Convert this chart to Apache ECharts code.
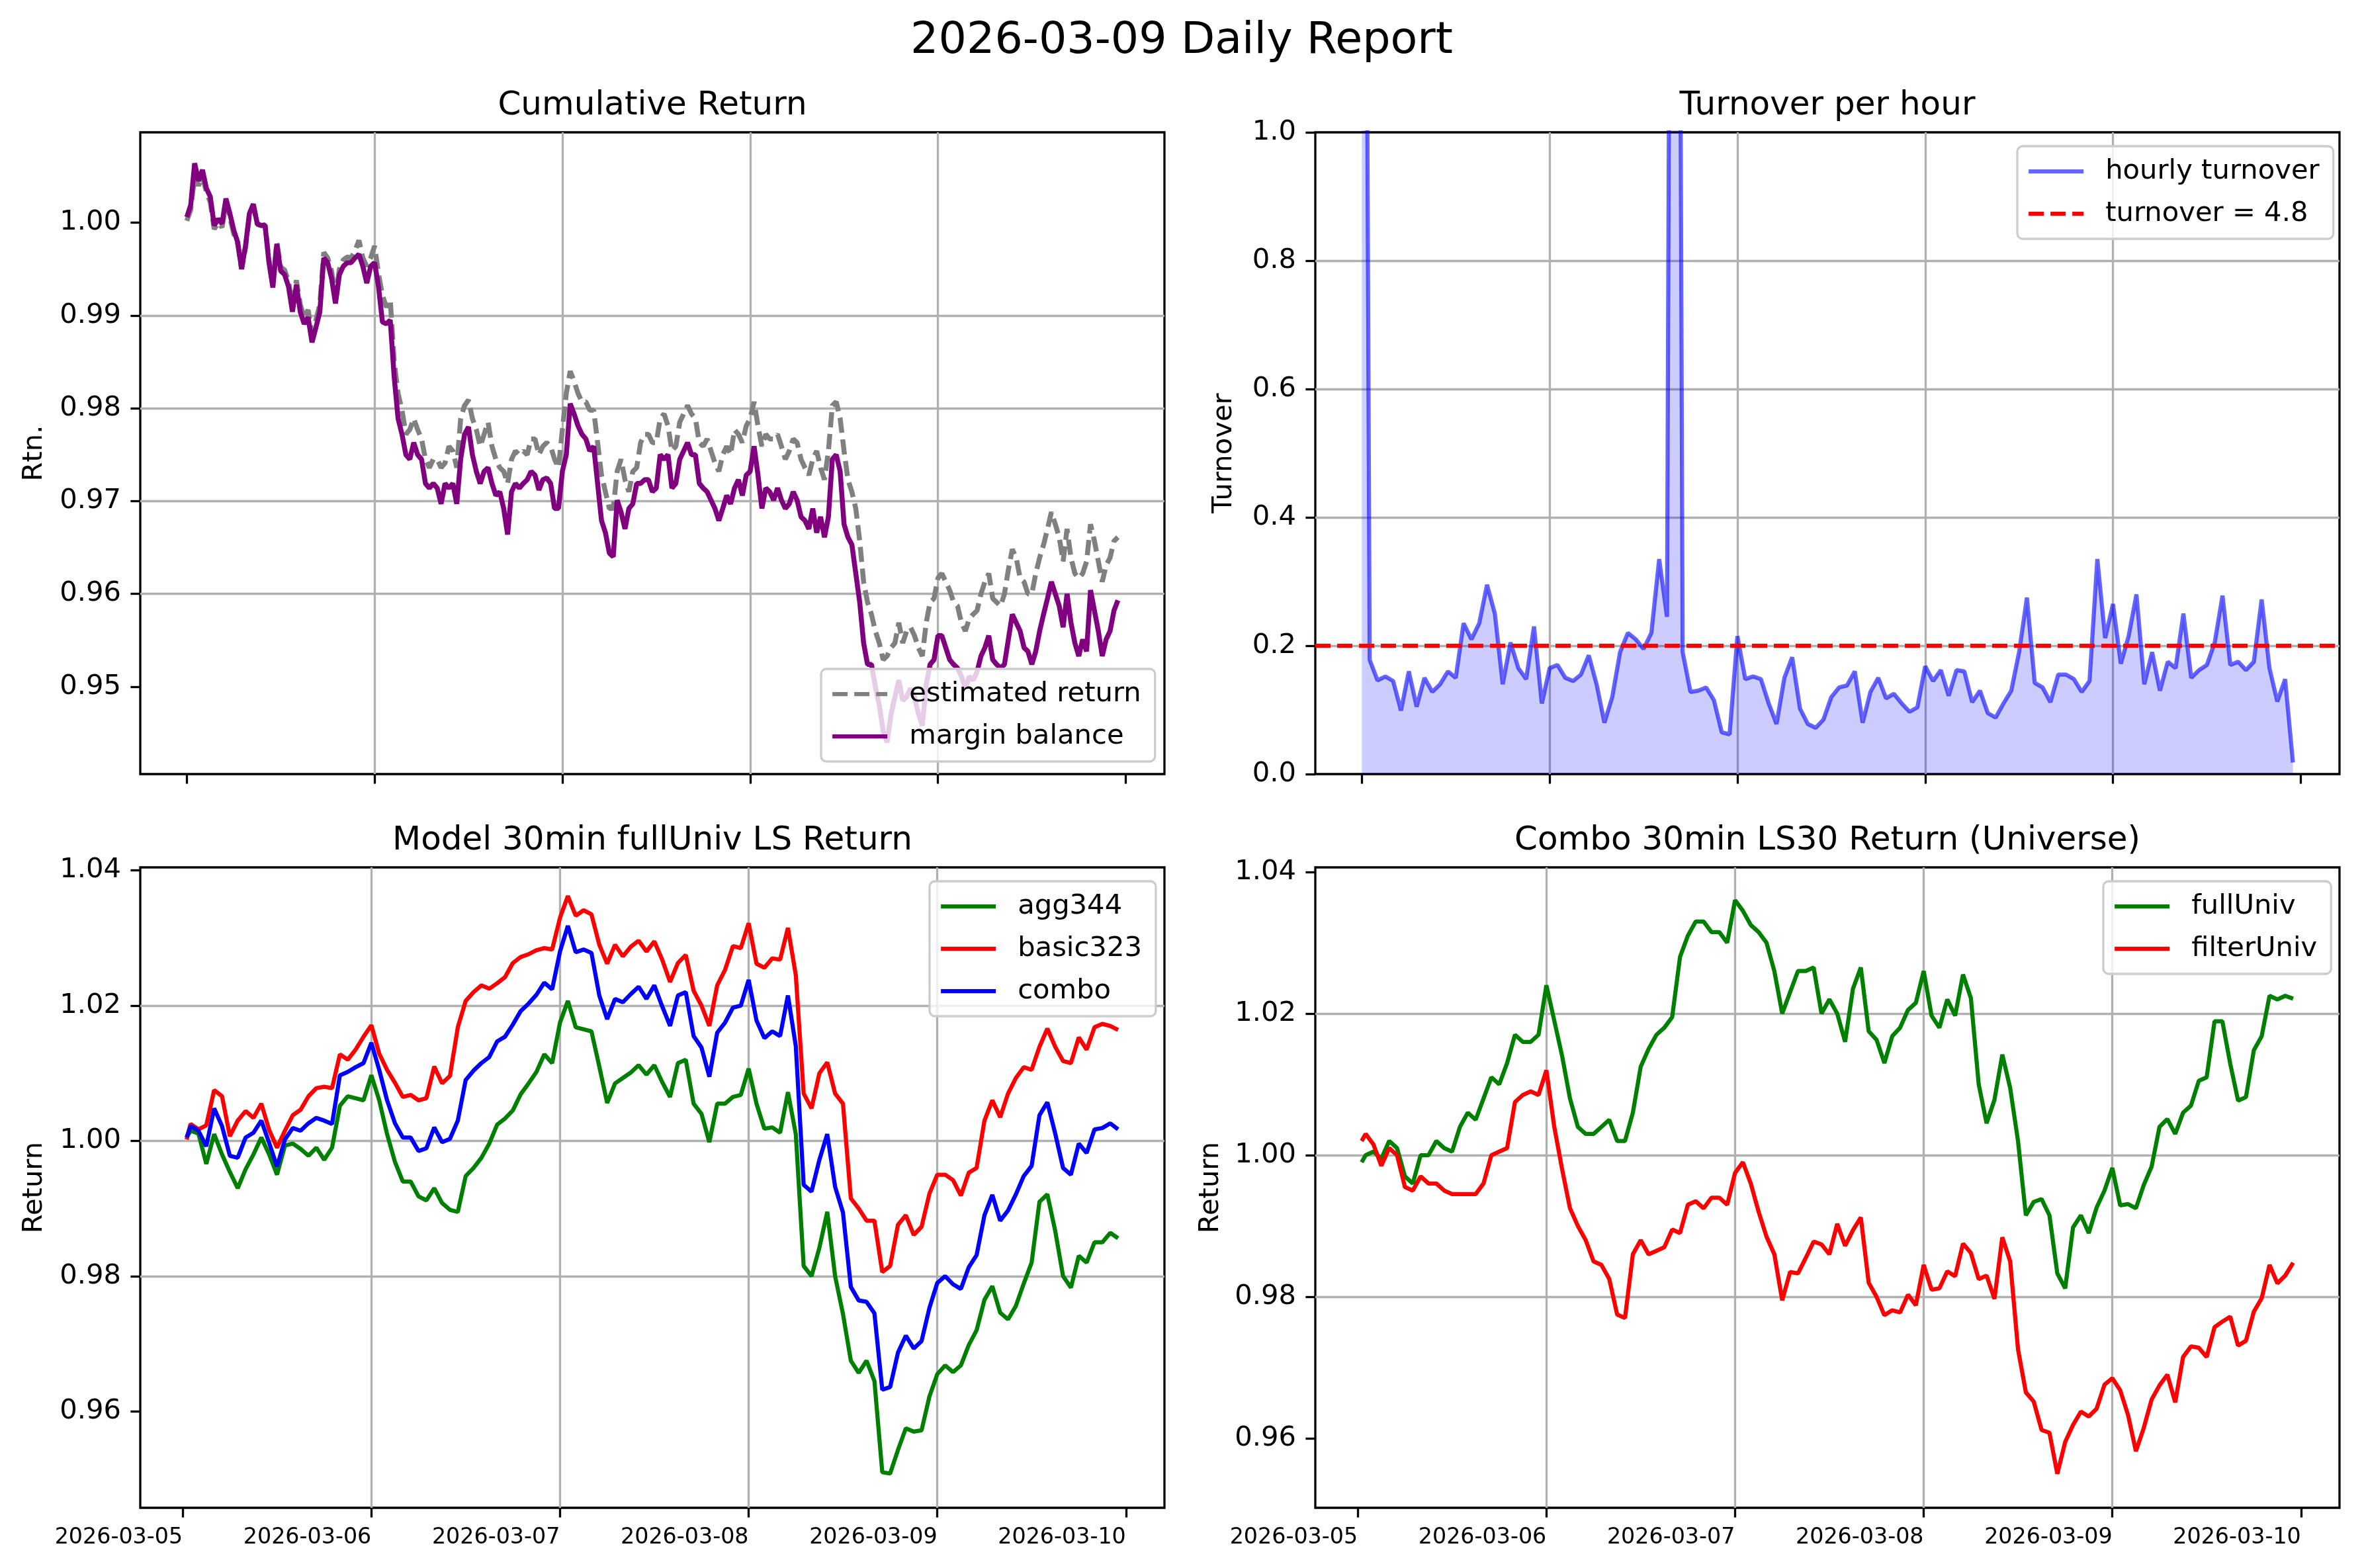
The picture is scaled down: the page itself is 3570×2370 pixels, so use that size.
<!DOCTYPE html>
<html>
<head>
<meta charset="utf-8">
<script src="https://cdn.jsdelivr.net/npm/echarts@6/dist/echarts.min.js"></script>
<style>
html,body{margin:0;padding:0;background:#ffffff;overflow:hidden;}
#chart{width:3570px;height:2370px;}
</style>
</head>
<body>
<div id="chart"></div>
<script>
// ---------- tick labels ----------
const xTickLabels = ['2026-03-05','2026-03-06','2026-03-07','2026-03-08','2026-03-09','2026-03-10'];
const xTickHours = [0, 24, 48, 72, 96, 120];
const cumTicks = [0.95, 0.96, 0.97, 0.98, 0.99, 1.00];
const turnoverTicks = [0.0, 0.2, 0.4, 0.6, 0.8, 1.0];
const returnTicks = [0.96, 0.98, 1.00, 1.02, 1.04];

// ---------- Cumulative Return (30-min samples from 2026-03-05 00:00) ----------
const estimatedReturn = [
1.0002,1.0014,1.0050,1.0040,1.0050,1.0033,1.0022,0.9993,1.0000,0.9995,
1.0020,1.0006,0.9988,0.9977,0.9950,0.9973,1.0008,1.0018,0.9998,0.9997,
0.9998,0.9960,0.9936,0.9979,0.9952,0.9949,0.9937,0.9911,0.9938,0.9912,
0.9898,0.9906,0.9880,0.9895,0.9912,0.9968,0.9962,0.9948,0.9920,0.9950,
0.9960,0.9963,0.9962,0.9970,0.9981,0.9962,0.9953,0.9962,0.9975,0.9945,
0.9922,0.9909,0.9917,0.9851,0.9816,0.9798,0.9772,0.9777,0.9789,0.9777,
0.9767,0.9745,0.9736,0.9745,0.9745,0.9736,0.9741,0.9759,0.9754,0.9736,
0.9789,0.9803,0.9809,0.9789,0.9777,0.9759,0.9772,0.9785,0.9759,0.9745,
0.9736,0.9732,0.9719,0.9745,0.9754,0.9750,0.9754,0.9750,0.9767,0.9767,
0.9750,0.9759,0.9763,0.9759,0.9745,0.9736,0.9777,0.9816,0.9840,0.9829,
0.9816,0.9807,0.9807,0.9798,0.9798,0.9763,0.9728,0.9710,0.9692,0.9692,
0.9732,0.9745,0.9723,0.9710,0.9732,0.9736,0.9763,0.9772,0.9772,0.9763,
0.9763,0.9789,0.9794,0.9781,0.9754,0.9759,0.9785,0.9794,0.9803,0.9794,
0.9789,0.9763,0.9759,0.9767,0.9754,0.9741,0.9732,0.9750,0.9759,0.9750,
0.9777,0.9772,0.9763,0.9781,0.9789,0.9807,0.9781,0.9759,0.9772,0.9767,
0.9767,0.9772,0.9759,0.9745,0.9754,0.9767,0.9763,0.9745,0.9736,0.9728,
0.9745,0.9754,0.9736,0.9723,0.9754,0.9803,0.9807,0.9789,0.9754,0.9723,
0.9710,0.9692,0.9657,0.9613,0.9591,0.9578,0.9560,0.9547,0.9529,0.9533,
0.9542,0.9547,0.9569,0.9547,0.9560,0.9564,0.9555,0.9542,0.9533,0.9569,
0.9591,0.9595,0.9617,0.9622,0.9613,0.9604,0.9591,0.9587,0.9569,0.9560,
0.9573,0.9578,0.9582,0.9600,0.9613,0.9622,0.9595,0.9591,0.9587,0.9600,
0.9626,0.9648,0.9639,0.9617,0.9613,0.9600,0.9600,0.9622,0.9639,0.9653,
0.9670,0.9688,0.9675,0.9661,0.9635,0.9670,0.9639,0.9622,0.9617,0.9622,
0.9635,0.9675,0.9657,0.9635,0.9613,0.9631,0.9639,0.9657,0.9661
];
const marginBalance = [
1.0006,1.0019,1.0064,1.0045,1.0057,1.0037,1.0028,0.9997,1.0004,0.9999,
1.0026,1.0010,0.9992,0.9979,0.9950,0.9975,1.0010,1.0020,0.9999,0.9997,
0.9997,0.9957,0.9930,0.9977,0.9948,0.9944,0.9931,0.9904,0.9933,0.9904,
0.9891,0.9898,0.9871,0.9887,0.9904,0.9962,0.9957,0.9940,0.9913,0.9944,
0.9953,0.9957,0.9957,0.9962,0.9966,0.9953,0.9935,0.9953,0.9957,0.9931,
0.9893,0.9891,0.9895,0.9834,0.9789,0.9772,0.9750,0.9745,0.9763,0.9750,
0.9745,0.9719,0.9714,0.9719,0.9714,0.9697,0.9719,0.9714,0.9719,0.9697,
0.9745,0.9772,0.9780,0.9750,0.9732,0.9719,0.9732,0.9736,0.9719,0.9706,
0.9710,0.9692,0.9664,0.9710,0.9719,0.9714,0.9719,0.9723,0.9732,0.9728,
0.9712,0.9723,0.9725,0.9719,0.9692,0.9692,0.9732,0.9750,0.9805,0.9794,
0.9781,0.9772,0.9767,0.9754,0.9759,0.9719,0.9679,0.9666,0.9644,0.9640,
0.9701,0.9688,0.9670,0.9692,0.9697,0.9719,0.9719,0.9723,0.9723,0.9710,
0.9714,0.9750,0.9745,0.9750,0.9714,0.9719,0.9745,0.9754,0.9763,0.9750,
0.9750,0.9719,0.9714,0.9710,0.9701,0.9692,0.9679,0.9692,0.9706,0.9697,
0.9714,0.9723,0.9706,0.9728,0.9732,0.9759,0.9728,0.9692,0.9714,0.9710,
0.9701,0.9714,0.9701,0.9692,0.9697,0.9710,0.9701,0.9683,0.9679,0.9670,
0.9692,0.9666,0.9683,0.9661,0.9683,0.9745,0.9750,0.9732,0.9675,0.9661,
0.9653,0.9622,0.9591,0.9547,0.9524,0.9524,0.9500,0.9480,0.9452,0.9440,
0.9470,0.9489,0.9507,0.9485,0.9489,0.9498,0.9489,0.9471,0.9458,0.9502,
0.9524,0.9529,0.9555,0.9555,0.9542,0.9529,0.9524,0.9520,0.9511,0.9498,
0.9511,0.9507,0.9516,0.9533,0.9542,0.9555,0.9529,0.9524,0.9520,0.9524,
0.9551,0.9578,0.9569,0.9560,0.9542,0.9538,0.9524,0.9538,0.9560,0.9578,
0.9595,0.9613,0.9600,0.9587,0.9564,0.9600,0.9569,0.9547,0.9533,0.9551,
0.9538,0.9604,0.9582,0.9560,0.9533,0.9551,0.9560,0.9582,0.9593
];

// ---------- Turnover per hour (hourly from 2026-03-05 00:00) ----------
const hourlyTurnover = [
3.0,0.178,0.146,0.152,0.145,0.099,0.160,0.105,0.150,0.128,
0.140,0.160,0.150,0.235,0.210,0.235,0.295,0.250,0.140,0.205,
0.165,0.148,0.230,0.110,0.165,0.170,0.150,0.145,0.155,0.185,
0.140,0.080,0.120,0.190,0.220,0.210,0.195,0.220,0.335,0.245,
3.5,0.190,0.128,0.130,0.135,0.115,0.065,0.062,0.215,0.148,
0.152,0.148,0.110,0.078,0.150,0.182,0.102,0.078,0.072,0.085,
0.120,0.135,0.138,0.160,0.080,0.128,0.150,0.118,0.125,0.110,
0.097,0.104,0.168,0.145,0.162,0.122,0.162,0.160,0.112,0.130,
0.095,0.088,0.110,0.130,0.190,0.275,0.142,0.135,0.112,0.155,
0.155,0.148,0.128,0.145,0.335,0.212,0.265,0.172,0.215,0.280,
0.140,0.190,0.130,0.175,0.165,0.250,0.150,0.162,0.170,0.205,
0.278,0.170,0.175,0.162,0.175,0.272,0.165,0.113,0.148,0.018
];
const turnoverTarget = 0.2;

// ---------- Model 30min fullUniv LS Return (00:30, then hourly 01:00..23:00 of 03-09) ----------
const agg344 = [
1.0005,1.0015,1.0011,0.9966,1.0010,0.9980,0.9954,0.9930,0.9958,0.9980,
1.0005,0.9980,0.9950,0.9993,0.9996,0.9988,0.9978,0.9990,0.9972,0.9990,
1.0052,1.0066,1.0063,1.0060,1.0097,1.0060,1.0010,0.9969,0.9940,0.9940,
0.9918,0.9912,0.9930,0.9908,0.9898,0.9895,0.9948,0.9960,0.9975,0.9996,
1.0024,1.0033,1.0045,1.0069,1.0085,1.0102,1.0128,1.0115,1.0175,1.0207,
1.0168,1.0165,1.0162,1.0110,1.0056,1.0085,1.0093,1.0101,1.0112,1.0098,
1.0112,1.0087,1.0065,1.0115,1.0120,1.0055,1.0040,0.9998,1.0055,1.0055,
1.0065,1.0068,1.0107,1.0055,1.0018,1.0020,1.0012,1.0072,1.0010,0.9815,
0.9800,0.9842,0.9895,0.9800,0.9744,0.9675,0.9657,0.9675,0.9645,0.9510,
0.9508,0.9543,0.9575,0.9570,0.9572,0.9622,0.9655,0.9668,0.9658,0.9668,
0.9698,0.9720,0.9765,0.9785,0.9746,0.9736,0.9756,0.9789,0.9820,0.9910,
0.9921,0.9867,0.9800,0.9783,0.9830,0.9820,0.9850,0.9850,0.9864,0.9856
];
const basic323 = [
1.0002,1.0025,1.0017,1.0023,1.0075,1.0066,1.0007,1.0030,1.0044,1.0034,
1.0055,1.0016,0.9990,1.0015,1.0038,1.0046,1.0066,1.0078,1.0080,1.0078,
1.0128,1.0120,1.0135,1.0154,1.0171,1.0129,1.0105,1.0086,1.0065,1.0068,
1.0060,1.0063,1.0110,1.0085,1.0096,1.0168,1.0207,1.0220,1.0230,1.0225,
1.0233,1.0242,1.0263,1.0272,1.0276,1.0282,1.0285,1.0283,1.0330,1.0362,
1.0333,1.0341,1.0335,1.0290,1.0262,1.0290,1.0273,1.0287,1.0296,1.0280,
1.0295,1.0268,1.0235,1.0263,1.0275,1.0222,1.0200,1.0170,1.0230,1.0253,
1.0288,1.0285,1.0322,1.0262,1.0256,1.0270,1.0268,1.0315,1.0245,1.0070,
1.0048,1.0100,1.0116,1.0070,1.0055,0.9915,0.9900,0.9882,0.9882,0.9806,
0.9815,0.9876,0.9890,0.9861,0.9873,0.9922,0.9950,0.9950,0.9942,0.9919,
0.9953,0.9960,1.0030,1.0060,1.0035,1.0070,1.0093,1.0109,1.0105,1.0139,
1.0166,1.0139,1.0118,1.0115,1.0153,1.0135,1.0168,1.0173,1.0170,1.0164
];
const combo = [
1.0005,1.0022,1.0015,0.9992,1.0048,1.0022,0.9978,0.9975,1.0005,1.0012,
1.0030,0.9997,0.9962,1.0002,1.0019,1.0015,1.0026,1.0034,1.0030,1.0025,
1.0097,1.0102,1.0109,1.0115,1.0145,1.0105,1.0060,1.0026,1.0005,1.0005,
0.9985,0.9989,1.0020,0.9998,1.0003,1.0030,1.0090,1.0104,1.0115,1.0124,
1.0147,1.0154,1.0172,1.0192,1.0203,1.0216,1.0234,1.0224,1.0280,1.0318,
1.0279,1.0283,1.0278,1.0215,1.0180,1.0210,1.0205,1.0217,1.0228,1.0210,
1.0230,1.0199,1.0170,1.0215,1.0220,1.0155,1.0138,1.0095,1.0160,1.0175,
1.0197,1.0200,1.0238,1.0178,1.0152,1.0162,1.0155,1.0215,1.0140,0.9935,
0.9925,0.9972,1.0010,0.9932,0.9894,0.9784,0.9764,0.9762,0.9745,0.9632,
0.9636,0.9687,0.9712,0.9693,0.9704,0.9753,0.9790,0.9800,0.9788,0.9781,
0.9813,0.9831,0.9890,0.9920,0.9882,0.9897,0.9921,0.9948,0.9963,1.0038,
1.0057,1.0011,0.9960,0.9950,0.9996,0.9982,1.0017,1.0019,1.0026,1.0017
];

// ---------- Combo 30min LS30 Return (Universe) ----------
const fullUniv = [
0.9990,1.0000,1.0005,0.9995,1.0020,1.0010,0.9970,0.9960,1.0000,1.0000,
1.0020,1.0010,1.0005,1.0040,1.0060,1.0050,1.0080,1.0110,1.0100,1.0130,
1.0170,1.0160,1.0160,1.0170,1.0240,1.0190,1.0140,1.0080,1.0040,1.0030,
1.0030,1.0040,1.0050,1.0020,1.0020,1.0060,1.0125,1.0150,1.0170,1.0180,
1.0195,1.0280,1.0310,1.0330,1.0330,1.0315,1.0315,1.0300,1.0360,1.0345,
1.0325,1.0315,1.0300,1.0260,1.0200,1.0230,1.0260,1.0260,1.0265,1.0200,
1.0220,1.0200,1.0160,1.0235,1.0265,1.0175,1.0163,1.0130,1.0168,1.0180,
1.0205,1.0215,1.0260,1.0197,1.0180,1.0220,1.0197,1.0255,1.0222,1.0100,
1.0045,1.0078,1.0142,1.0095,1.0020,0.9915,0.9934,0.9938,0.9915,0.9833,
0.9812,0.9898,0.9915,0.9890,0.9926,0.9950,0.9982,0.9929,0.9931,0.9925,
0.9958,0.9984,1.0040,1.0051,1.0030,1.0060,1.0070,1.0105,1.0110,1.0189,
1.0189,1.0129,1.0077,1.0082,1.0148,1.0168,1.0225,1.0220,1.0225,1.0221
];
const filterUniv = [
1.0020,1.0030,1.0015,0.9985,1.0010,1.0000,0.9955,0.9950,0.9970,0.9960,
0.9960,0.9950,0.9945,0.9945,0.9945,0.9945,0.9960,1.0000,1.0005,1.0010,
1.0075,1.0085,1.0090,1.0085,1.0120,1.0040,0.9980,0.9925,0.9900,0.9880,
0.9850,0.9845,0.9825,0.9775,0.9770,0.9860,0.9880,0.9860,0.9865,0.9870,
0.9895,0.9890,0.9930,0.9935,0.9925,0.9940,0.9940,0.9930,0.9975,0.9990,
0.9960,0.9920,0.9885,0.9860,0.9795,0.9835,0.9833,0.9855,0.9878,0.9874,
0.9860,0.9903,0.9872,0.9894,0.9912,0.9820,0.9800,0.9774,0.9781,0.9778,
0.9803,0.9788,0.9845,0.9810,0.9812,0.9836,0.9829,0.9875,0.9862,0.9825,
0.9830,0.9797,0.9884,0.9850,0.9726,0.9665,0.9652,0.9612,0.9608,0.9550,
0.9595,0.9619,0.9638,0.9631,0.9642,0.9676,0.9685,0.9668,0.9633,0.9582,
0.9615,0.9655,0.9675,0.9690,0.9651,0.9715,0.9730,0.9728,0.9715,0.9757,
0.9765,0.9772,0.9731,0.9738,0.9779,0.9798,0.9845,0.9819,0.9830,0.9848
];

// ---------- helpers (x = hours since 2026-03-05 00:00) ----------
const halfHourly = arr => arr.map((v, i) => [i * 0.5, v]);
const hourly = arr => arr.map((v, i) => [i, v]);
const bottomSeries = arr => arr.map((v, i) => [i === 0 ? 0.5 : i, v]);

const FONT = 'DejaVu Sans';
const topXMin = -5.95, topXMax = 124.95;
const botXMin = -5.4, botXMax = 124.9;

const grids = [
  {left: 212, top: 200, width: 1548, height: 970},
  {left: 1988, top: 200, width: 1548, height: 970},
  {left: 212, top: 1311, width: 1548, height: 968},
  {left: 1988, top: 1311, width: 1548, height: 968}
].map(g => Object.assign(g, {show: true, borderColor: '#000000', borderWidth: 3.3, backgroundColor: 'transparent', containLabel: false}));

function xAxisCfg(gi, min, max, showLabel) {
  return {
    type: 'value', gridIndex: gi, min: min, max: max,
    axisLine: {show: false, onZero: false},
    axisTick: {show: true, customValues: xTickHours, length: 14.6, lineStyle: {color: '#000', width: 3.3}},
    axisLabel: {show: showLabel, customValues: xTickHours, margin: 29, fontSize: 33.3, color: '#000', fontFamily: FONT, align: 'right',
      formatter: v => { const k = xTickHours.indexOf(v); return k >= 0 ? xTickLabels[k] : ''; }},
    splitLine: {show: true, showMinLine: false, showMaxLine: false, lineStyle: {color: '#b0b0b0', width: 3.3}}
  };
}
function yAxisCfg(gi, min, max, ticks, digits, name, gap) {
  return {
    type: 'value', gridIndex: gi, min: min, max: max,
    name: name, nameLocation: 'middle', nameGap: gap, nameRotate: 90,
    nameTextStyle: {fontSize: 41.7, color: '#000', fontFamily: FONT},
    axisLine: {show: false, onZero: false},
    axisTick: {show: true, customValues: ticks, length: 14.6, lineStyle: {color: '#000', width: 3.3}},
    axisLabel: {show: true, customValues: ticks, margin: 29, fontSize: 41.7, color: '#000', fontFamily: FONT,
      formatter: v => Number(v).toFixed(digits)},
    splitLine: {show: true, showMinLine: false, showMaxLine: false, lineStyle: {color: '#b0b0b0', width: 3.3}}
  };
}

const legendCommon = {
  orient: 'vertical', itemWidth: 83, itemHeight: 20, itemGap: 22,
  padding: [17, 21, 17, 14],
  backgroundColor: 'rgba(255,255,255,0.8)', borderColor: '#cccccc', borderWidth: 3.3, borderRadius: 8,
  itemStyle: {opacity: 0},
  lineStyle: {width: 6.25},
  textStyle: {fontSize: 41.7, color: '#000', fontFamily: FONT, padding: [0, 0, 0, 28]},
  selectedMode: false
};
const titleStyle = size => ({fontSize: size, fontWeight: 'normal', color: '#000', fontFamily: FONT});

function lineSeries(name, xi, data, color, extra) {
  return Object.assign({
    name: name, type: 'line', xAxisIndex: xi, yAxisIndex: xi, data: data,
    symbol: 'none', showSymbol: false, smooth: false, animation: false,
    lineStyle: {color: color, width: 6.25}, itemStyle: {color: color}
  }, extra || {});
}

const option = {
  animation: false,
  backgroundColor: '#ffffff',
  textStyle: {fontFamily: FONT},
  title: [
    {text: '2026-03-09 Daily Report', left: 1786, top: 29, textAlign: 'center', padding: 0, textStyle: titleStyle(66.7)},
    {text: 'Cumulative Return', left: 986, top: 135, textAlign: 'center', padding: 0, textStyle: titleStyle(50)},
    {text: 'Turnover per hour', left: 2762, top: 135, textAlign: 'center', padding: 0, textStyle: titleStyle(50)},
    {text: 'Model 30min fullUniv LS Return', left: 986, top: 1246, textAlign: 'center', padding: 0, textStyle: titleStyle(50)},
    {text: 'Combo 30min LS30 Return (Universe)', left: 2762, top: 1246, textAlign: 'center', padding: 0, textStyle: titleStyle(50)}
  ],
  grid: grids,
  xAxis: [
    xAxisCfg(0, topXMin, topXMax, false),
    xAxisCfg(1, topXMin, topXMax, false),
    xAxisCfg(2, botXMin, botXMax, true),
    xAxisCfg(3, botXMin, botXMax, true)
  ],
  yAxis: [
    yAxisCfg(0, 0.94058, 1.00974, cumTicks, 2, 'Rtn.', 139),
    yAxisCfg(1, 0, 1, turnoverTicks, 1, 'Turnover', 117),
    yAxisCfg(2, 0.94574, 1.04045, returnTicks, 2, 'Return', 139),
    yAxisCfg(3, 0.95021, 1.04064, returnTicks, 2, 'Return', 137)
  ],
  legend: [
    Object.assign({}, legendCommon, {data: ['estimated return', 'margin balance'], left: 1241, top: 1011}),
    Object.assign({}, legendCommon, {data: ['hourly turnover', 'turnover = 4.8'], left: 3049, top: 221}),
    Object.assign({}, legendCommon, {data: ['agg344', 'basic323', 'combo'], left: 1405, top: 1332}),
    Object.assign({}, legendCommon, {data: ['fullUniv', 'filterUniv'], left: 3179, top: 1332})
  ],
  series: [
    lineSeries('estimated return', 0, halfHourly(estimatedReturn), '#808080', {lineStyle: {color: '#808080', width: 7.5, type: [23, 10]}}),
    lineSeries('margin balance', 0, halfHourly(marginBalance), '#800080', {lineStyle: {color: '#800080', width: 7.5}}),
    lineSeries('hourly turnover', 1, hourly(hourlyTurnover), 'rgba(0,0,255,0.6)', {areaStyle: {color: 'rgba(0,0,255,0.2)', opacity: 1, origin: 'start'}}),
    lineSeries('turnover = 4.8', 1, [[topXMin, turnoverTarget], [topXMax, turnoverTarget]], '#ff0000', {lineStyle: {color: '#ff0000', width: 6.25, type: [23, 10]}}),
    lineSeries('agg344', 2, bottomSeries(agg344), '#008000'),
    lineSeries('basic323', 2, bottomSeries(basic323), '#ff0000'),
    lineSeries('combo', 2, bottomSeries(combo), '#0000ff'),
    lineSeries('fullUniv', 3, bottomSeries(fullUniv), '#008000'),
    lineSeries('filterUniv', 3, bottomSeries(filterUniv), '#ff0000')
  ]
};

const chart = echarts.init(document.getElementById('chart'), null, {renderer: 'canvas'});
chart.setOption(option);
</script>
</body>
</html>
